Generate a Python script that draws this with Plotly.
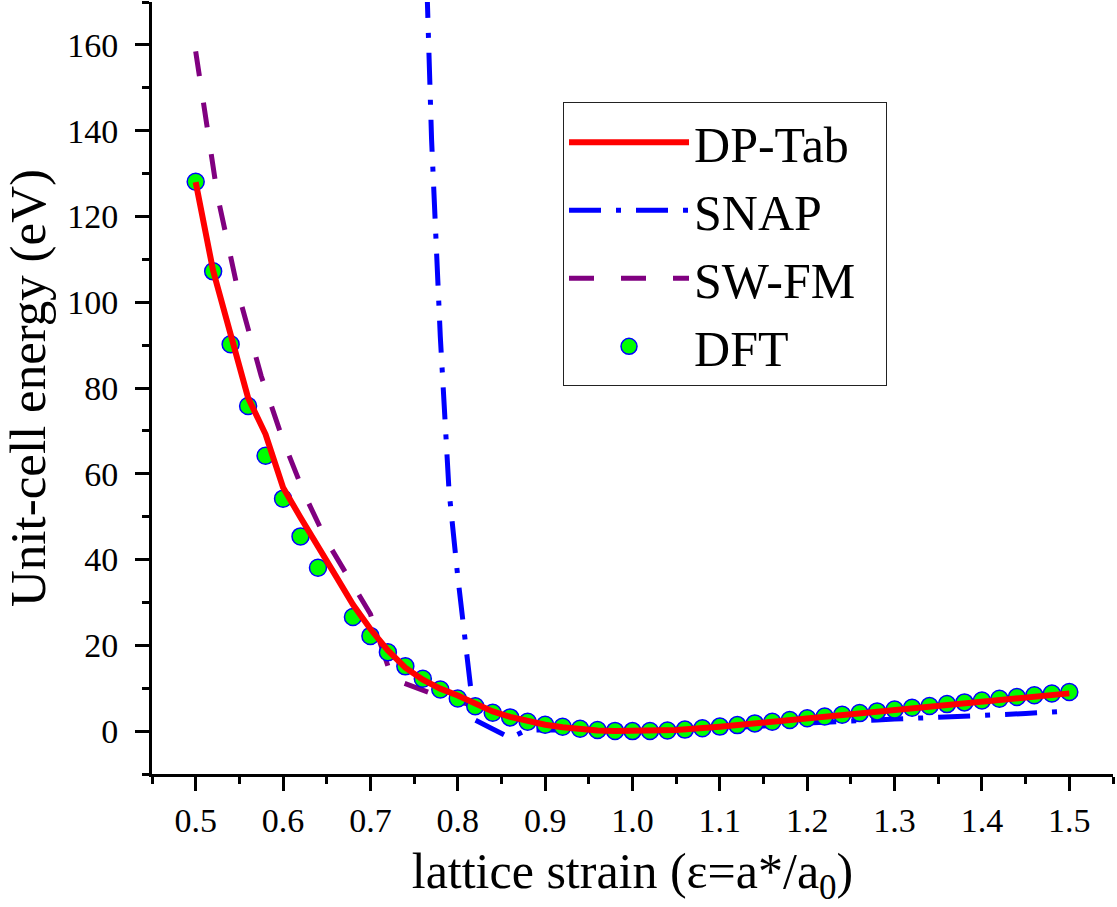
import plotly.graph_objects as go

# ---- data ----
dft_x = [0.50, 0.52, 0.54, 0.56, 0.58, 0.60, 0.62, 0.64, 0.68, 0.70,
         0.72, 0.74, 0.76, 0.78, 0.80, 0.82, 0.84, 0.86, 0.88, 0.90,
         0.92, 0.94, 0.96, 0.98, 1.00, 1.02, 1.04, 1.06, 1.08, 1.10,
         1.12, 1.14, 1.16, 1.18, 1.20, 1.22, 1.24, 1.26, 1.28, 1.30,
         1.32, 1.34, 1.36, 1.38, 1.40, 1.42, 1.44, 1.46, 1.48, 1.50]
dft_y = [128.1, 107.2, 90.2, 75.8, 64.2, 54.2, 45.4, 38.1, 26.6, 22.2,
         18.4, 15.1, 12.2, 9.7, 7.6, 5.8, 4.3, 3.2, 2.2, 1.5,
         1.0, 0.55, 0.25, 0.05, 0.0, 0.03, 0.15, 0.35, 0.65, 1.05,
         1.4, 1.8, 2.2, 2.6, 3.0, 3.4, 3.8, 4.2, 4.6, 5.05,
         5.45, 5.85, 6.3, 6.7, 7.15, 7.55, 7.95, 8.35, 8.75, 9.1]

dp_x = [0.50, 0.52, 0.54, 0.56, 0.58, 0.60, 0.62, 0.64, 0.66, 0.68,
        0.70, 0.72, 0.74, 0.76, 0.78, 0.80, 0.82, 0.84, 0.86, 0.88,
        0.90, 0.92, 0.94, 0.96, 0.98, 1.00, 1.05, 1.10, 1.15, 1.20,
        1.25, 1.30, 1.35, 1.40, 1.45, 1.50]
dp_y = [128.0, 107.3, 92.5, 77.7, 69.2, 56.8, 49.8, 42.8, 36.3, 29.5,
        23.8, 18.8, 14.8, 12.0, 9.9, 8.3, 6.3, 4.6, 3.3, 2.3,
        1.5, 0.9, 0.45, 0.15, 0.03, 0.0, 0.25, 1.0, 2.0, 2.95,
        3.95, 4.95, 5.9, 6.95, 7.9, 8.8]

sw_x = [0.500, 0.525, 0.550, 0.575, 0.600, 0.625, 0.650, 0.675, 0.700,
        0.725, 0.750, 0.775, 0.800, 0.825, 0.850, 0.875, 0.900, 0.950,
        1.000, 1.050, 1.100, 1.200, 1.300, 1.400, 1.500]
sw_y = [158.5, 124.8, 101.2, 82.8, 67.8, 55.0, 44.3, 35.6, 27.3,
        12.2, 10.4, 8.4, 7.0, 5.6, 3.9, 2.5, 1.5, 0.4,
        0.0, 0.3, 1.0, 3.0, 5.0, 7.0, 8.9]

snap_x = [0.760, 0.770, 0.780, 0.790, 0.800, 0.810, 0.819, 0.840, 0.860,
          0.878, 0.900, 0.950, 1.000, 1.050, 1.100, 1.150, 1.200, 1.250,
          1.280, 1.300, 1.350, 1.400, 1.450, 1.500]
snap_y = [205.0, 138.0, 92.0, 56.0, 36.0, 18.5, 2.7, 0.5, -1.6,
          0.2, 0.3, 0.1, 0.0, 0.2, 0.6, 1.2, 1.9, 2.5,
          2.6, 2.8, 3.2, 3.7, 4.1, 4.7]

x_ticks = [0.5, 0.6, 0.7, 0.8, 0.9, 1.0, 1.1, 1.2, 1.3, 1.4, 1.5]
x_tick_labels = ["0.5", "0.6", "0.7", "0.8", "0.9", "1.0", "1.1", "1.2", "1.3", "1.4", "1.5"]
y_ticks = [0, 20, 40, 60, 80, 100, 120, 140, 160]
y_tick_labels = ["0", "20", "40", "60", "80", "100", "120", "140", "160"]

FONT = "Liberation Serif, Times New Roman, serif"

fig = go.Figure()
fig.add_trace(go.Scatter(x=snap_x, y=snap_y, mode="lines", name="SNAP", legendrank=2,
                         line=dict(color="#0000ff", width=5, dash="32px,15px,5px,15px")))
fig.add_trace(go.Scatter(x=sw_x, y=sw_y, mode="lines", name="SW-FM\u2002", legendrank=3,
                         line=dict(color="#800080", width=5, dash="25px,27px")))
fig.add_trace(go.Scatter(x=dft_x, y=dft_y, mode="markers", name="DFT", legendrank=4,
                         marker=dict(color="#00ff00", size=17, line=dict(color="#0000ff", width=1.5))))
fig.add_trace(go.Scatter(x=dp_x, y=dp_y, mode="lines", name="DP-Tab", legendrank=1,
                         line=dict(color="#ff0000", width=6)))

axis_common = dict(showline=True, linecolor="black", linewidth=3, showgrid=False, zeroline=False,
                   tickcolor="black", tickwidth=3, ticklen=14)

fig.update_layout(
    width=1117, height=907,
    margin=dict(l=152, r=4, t=2, b=133),
    paper_bgcolor="white", plot_bgcolor="white",
    font=dict(family=FONT, color="black"),
    showlegend=True,
    legend=dict(x=0.4277, y=0.870, xanchor="left", yanchor="top",
                bgcolor="white", bordercolor="#222", borderwidth=1,
                font=dict(size=50, family=FONT), itemwidth=120,
                tracegroupgap=0),
    xaxis=dict(range=[0.45, 1.55], tickvals=x_ticks, ticktext=x_tick_labels,
               ticks="outside", tickfont=dict(size=34, family=FONT),
               minor=dict(dtick=0.05, tick0=0.45, ticks="outside", ticklen=7, tickwidth=3, tickcolor="black"),
               title=dict(text="lattice strain (ε=a*/a<sub>0</sub>)", font=dict(size=50, family=FONT), standoff=16),
               **axis_common),
    yaxis=dict(range=[-10, 170], tickvals=y_ticks, ticktext=y_tick_labels,
               ticks="outside", tickfont=dict(size=34, family=FONT), ticklabelstandoff=10,
               minor=dict(dtick=10, tick0=0, ticks="outside", ticklen=7, tickwidth=3, tickcolor="black"),
               title=dict(text="Unit-cell energy (eV)", font=dict(size=51, family=FONT), standoff=6),
               **axis_common),
    xaxis2=dict(range=[0.45, 1.55], overlaying="x", side="top", anchor="y",
                tickvals=x_ticks, showticklabels=False, ticks="inside",
                minor=dict(dtick=0.05, tick0=0.45, ticks="inside", ticklen=7, tickwidth=3, tickcolor="black"),
                **axis_common),
    yaxis2=dict(range=[-10, 170], overlaying="y", side="right", anchor="x",
                tickvals=y_ticks, showticklabels=False, ticks="inside",
                minor=dict(dtick=10, tick0=0, ticks="inside", ticklen=7, tickwidth=3, tickcolor="black"),
                **axis_common),
)

fig.write_html("out.html")
